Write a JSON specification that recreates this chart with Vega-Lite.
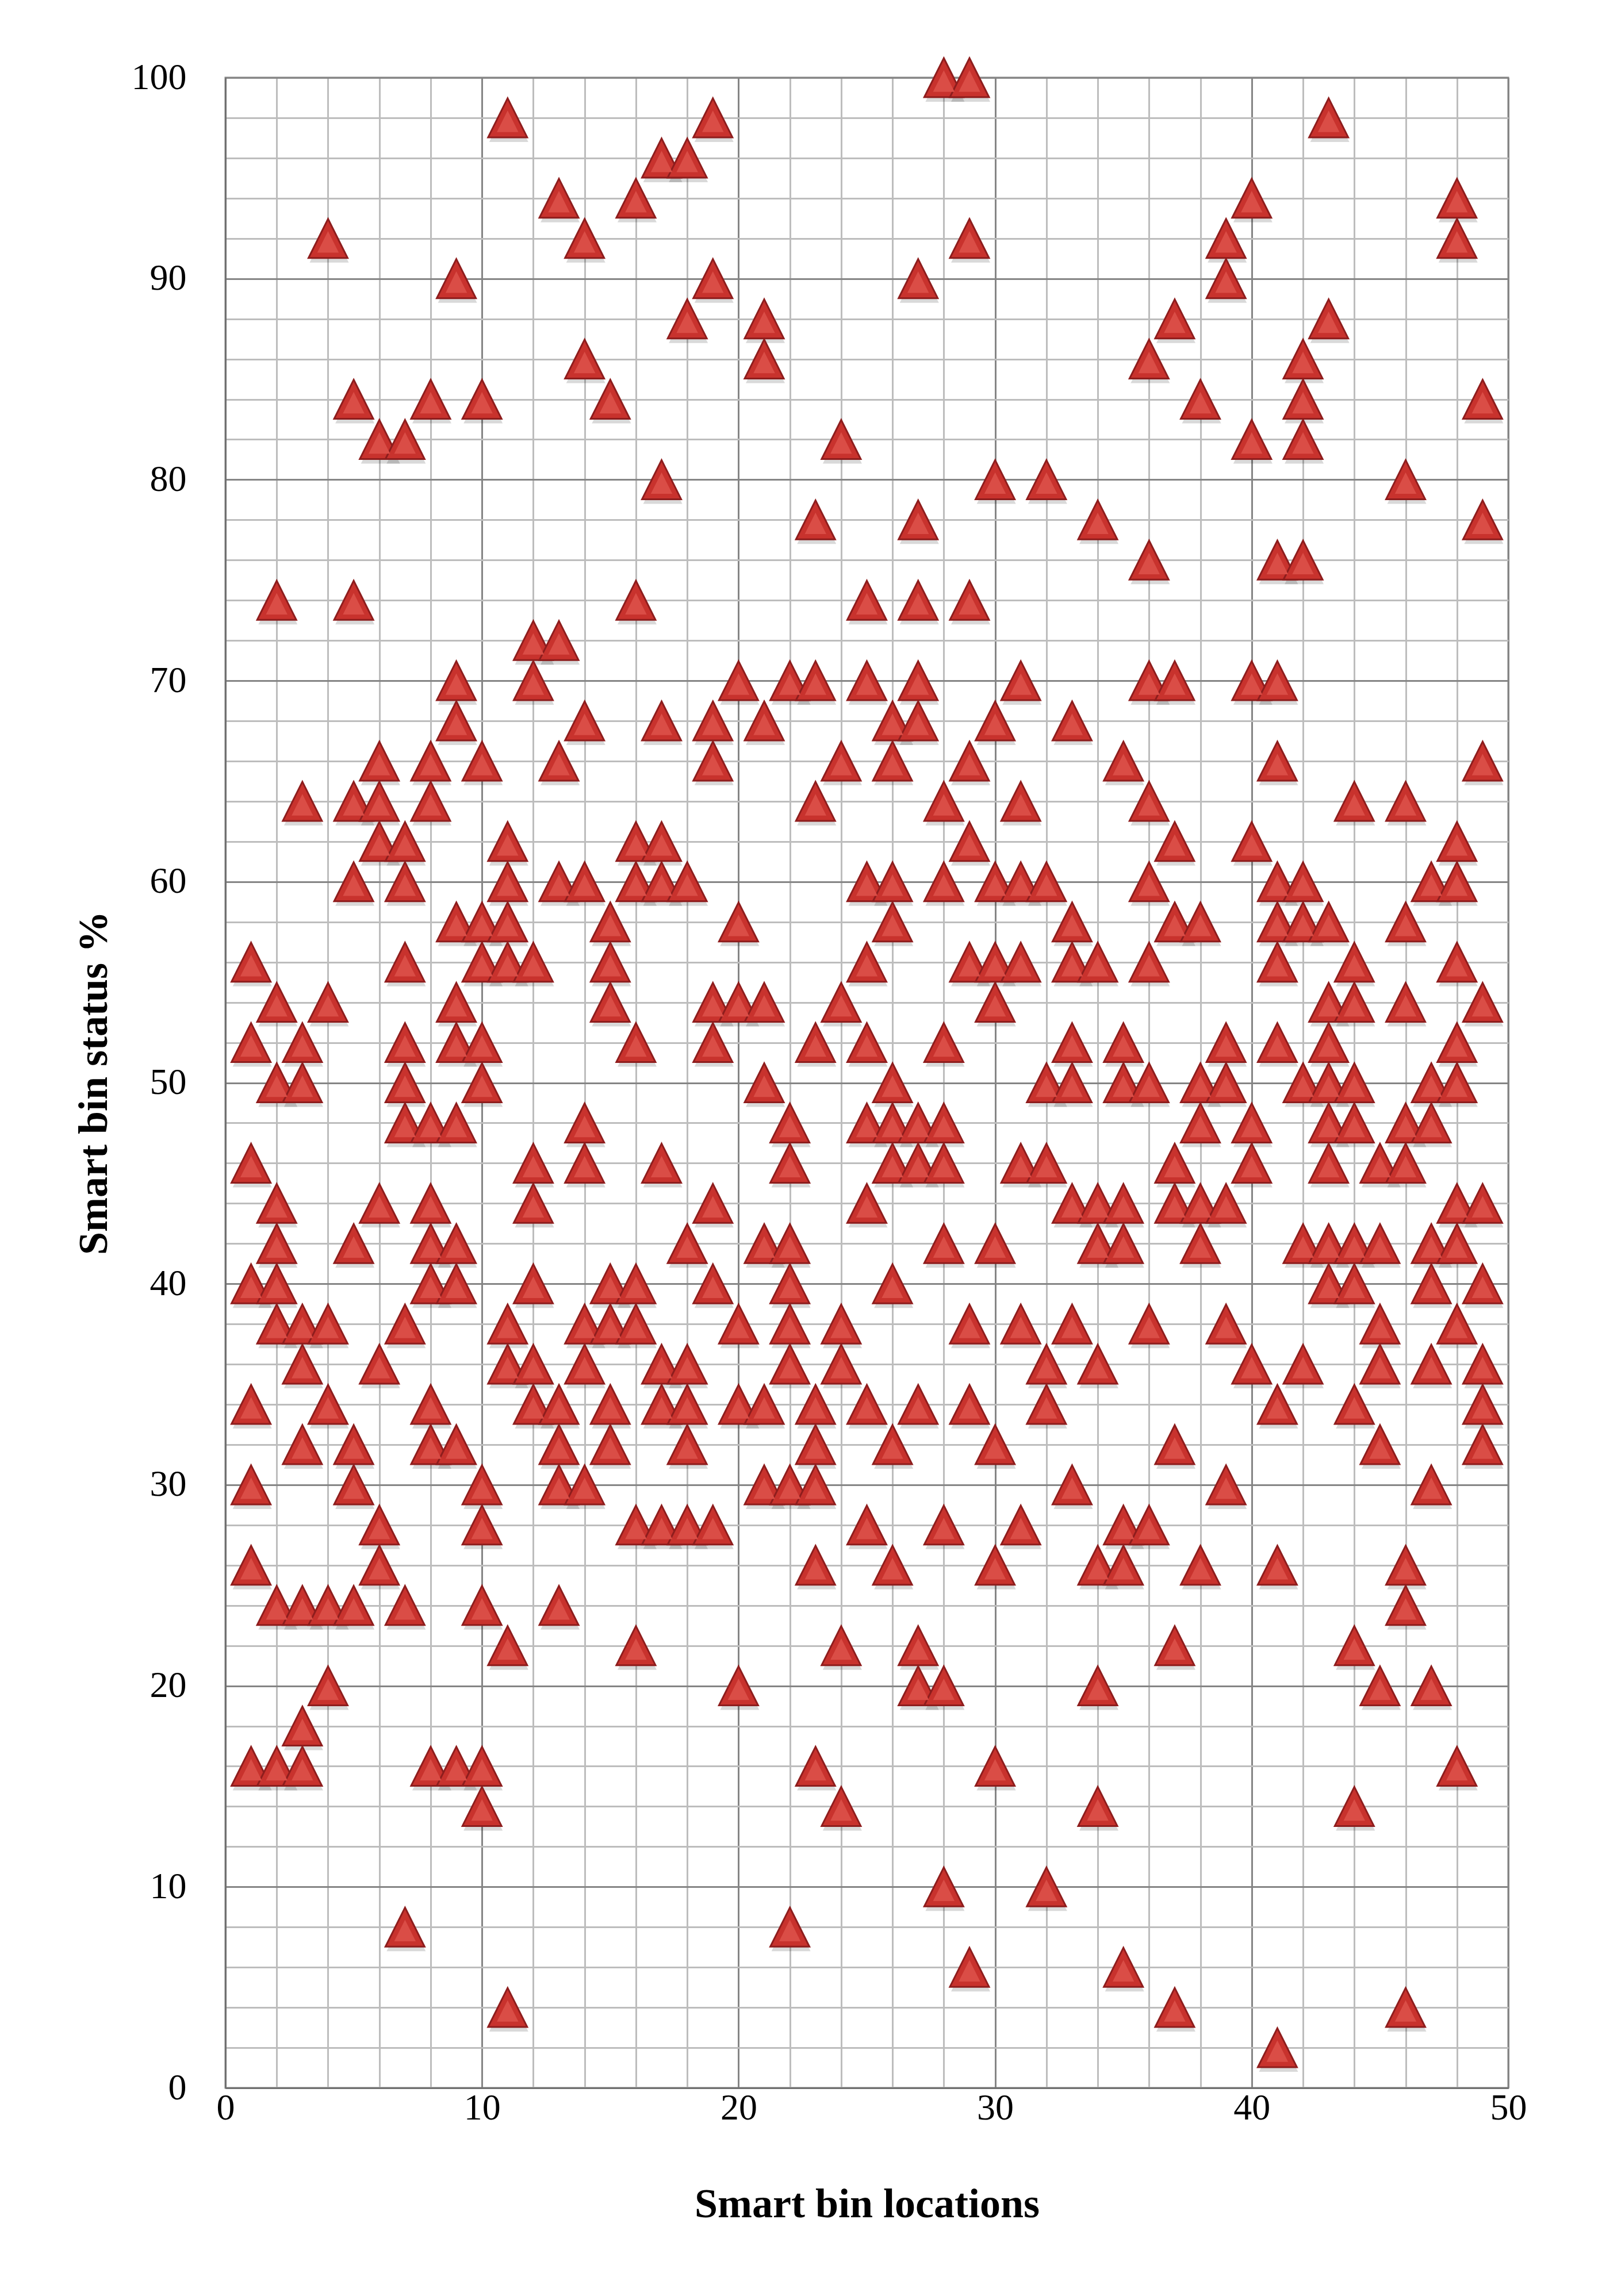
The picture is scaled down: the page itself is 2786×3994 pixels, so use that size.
{
  "$schema": "https://vega.github.io/schema/vega-lite/v6.json",
  "width": 2231,
  "height": 3497,
  "autosize": {"type": "none"},
  "padding": {"left": 392, "top": 135, "right": 163, "bottom": 362},
  "background": "white",
  "config": {"view": {"stroke": "#8c8c8c", "strokeWidth": 3}, "font": "Liberation Serif"},
  "data": {"values": [
{"location":1,"status":56},{"location":1,"status":52},{"location":1,"status":46},{"location":1,"status":40},{"location":1,"status":34},{"location":1,"status":30},{"location":1,"status":26},{"location":1,"status":16},
{"location":2,"status":74},{"location":2,"status":54},{"location":2,"status":50},{"location":2,"status":44},{"location":2,"status":42},{"location":2,"status":40},{"location":2,"status":38},{"location":2,"status":24},{"location":2,"status":16},
{"location":3,"status":64},{"location":3,"status":52},{"location":3,"status":50},{"location":3,"status":38},{"location":3,"status":36},{"location":3,"status":32},{"location":3,"status":24},{"location":3,"status":18},{"location":3,"status":16},
{"location":4,"status":92},{"location":4,"status":54},{"location":4,"status":38},{"location":4,"status":34},{"location":4,"status":24},{"location":4,"status":20},
{"location":5,"status":84},{"location":5,"status":74},{"location":5,"status":64},{"location":5,"status":60},{"location":5,"status":42},{"location":5,"status":32},{"location":5,"status":30},{"location":5,"status":24},
{"location":6,"status":82},{"location":6,"status":66},{"location":6,"status":64},{"location":6,"status":62},{"location":6,"status":44},{"location":6,"status":36},{"location":6,"status":28},{"location":6,"status":26},
{"location":7,"status":82},{"location":7,"status":62},{"location":7,"status":60},{"location":7,"status":56},{"location":7,"status":52},{"location":7,"status":50},{"location":7,"status":48},{"location":7,"status":38},{"location":7,"status":24},{"location":7,"status":8},
{"location":8,"status":84},{"location":8,"status":66},{"location":8,"status":64},{"location":8,"status":48},{"location":8,"status":44},{"location":8,"status":42},{"location":8,"status":40},{"location":8,"status":34},{"location":8,"status":32},{"location":8,"status":16},
{"location":9,"status":90},{"location":9,"status":70},{"location":9,"status":68},{"location":9,"status":58},{"location":9,"status":54},{"location":9,"status":52},{"location":9,"status":48},{"location":9,"status":42},{"location":9,"status":40},{"location":9,"status":32},{"location":9,"status":16},
{"location":10,"status":84},{"location":10,"status":66},{"location":10,"status":58},{"location":10,"status":56},{"location":10,"status":52},{"location":10,"status":50},{"location":10,"status":30},{"location":10,"status":28},{"location":10,"status":24},{"location":10,"status":16},{"location":10,"status":14},
{"location":11,"status":98},{"location":11,"status":62},{"location":11,"status":60},{"location":11,"status":58},{"location":11,"status":56},{"location":11,"status":38},{"location":11,"status":36},{"location":11,"status":22},{"location":11,"status":4},
{"location":12,"status":72},{"location":12,"status":70},{"location":12,"status":56},{"location":12,"status":46},{"location":12,"status":44},{"location":12,"status":40},{"location":12,"status":36},{"location":12,"status":34},
{"location":13,"status":94},{"location":13,"status":72},{"location":13,"status":66},{"location":13,"status":60},{"location":13,"status":34},{"location":13,"status":32},{"location":13,"status":30},{"location":13,"status":24},
{"location":14,"status":92},{"location":14,"status":86},{"location":14,"status":68},{"location":14,"status":60},{"location":14,"status":48},{"location":14,"status":46},{"location":14,"status":38},{"location":14,"status":36},{"location":14,"status":30},
{"location":15,"status":84},{"location":15,"status":58},{"location":15,"status":56},{"location":15,"status":54},{"location":15,"status":40},{"location":15,"status":38},{"location":15,"status":34},{"location":15,"status":32},
{"location":16,"status":94},{"location":16,"status":74},{"location":16,"status":62},{"location":16,"status":60},{"location":16,"status":52},{"location":16,"status":40},{"location":16,"status":38},{"location":16,"status":28},{"location":16,"status":22},
{"location":17,"status":96},{"location":17,"status":80},{"location":17,"status":68},{"location":17,"status":62},{"location":17,"status":60},{"location":17,"status":46},{"location":17,"status":36},{"location":17,"status":34},{"location":17,"status":28},
{"location":18,"status":96},{"location":18,"status":88},{"location":18,"status":60},{"location":18,"status":42},{"location":18,"status":36},{"location":18,"status":34},{"location":18,"status":32},{"location":18,"status":28},
{"location":19,"status":98},{"location":19,"status":90},{"location":19,"status":68},{"location":19,"status":66},{"location":19,"status":54},{"location":19,"status":52},{"location":19,"status":44},{"location":19,"status":40},{"location":19,"status":28},
{"location":20,"status":70},{"location":20,"status":58},{"location":20,"status":54},{"location":20,"status":38},{"location":20,"status":34},{"location":20,"status":20},
{"location":21,"status":88},{"location":21,"status":86},{"location":21,"status":68},{"location":21,"status":54},{"location":21,"status":50},{"location":21,"status":42},{"location":21,"status":34},{"location":21,"status":30},
{"location":22,"status":70},{"location":22,"status":48},{"location":22,"status":46},{"location":22,"status":42},{"location":22,"status":40},{"location":22,"status":38},{"location":22,"status":36},{"location":22,"status":30},{"location":22,"status":8},
{"location":23,"status":78},{"location":23,"status":70},{"location":23,"status":64},{"location":23,"status":52},{"location":23,"status":34},{"location":23,"status":32},{"location":23,"status":30},{"location":23,"status":26},{"location":23,"status":16},
{"location":24,"status":82},{"location":24,"status":66},{"location":24,"status":54},{"location":24,"status":38},{"location":24,"status":36},{"location":24,"status":22},{"location":24,"status":14},
{"location":25,"status":74},{"location":25,"status":70},{"location":25,"status":60},{"location":25,"status":56},{"location":25,"status":52},{"location":25,"status":48},{"location":25,"status":44},{"location":25,"status":34},{"location":25,"status":28},
{"location":26,"status":68},{"location":26,"status":66},{"location":26,"status":60},{"location":26,"status":58},{"location":26,"status":50},{"location":26,"status":48},{"location":26,"status":46},{"location":26,"status":40},{"location":26,"status":32},{"location":26,"status":26},
{"location":27,"status":90},{"location":27,"status":78},{"location":27,"status":74},{"location":27,"status":70},{"location":27,"status":68},{"location":27,"status":48},{"location":27,"status":46},{"location":27,"status":34},{"location":27,"status":22},{"location":27,"status":20},
{"location":28,"status":100},{"location":28,"status":64},{"location":28,"status":60},{"location":28,"status":52},{"location":28,"status":48},{"location":28,"status":46},{"location":28,"status":42},{"location":28,"status":28},{"location":28,"status":20},{"location":28,"status":10},
{"location":29,"status":100},{"location":29,"status":92},{"location":29,"status":74},{"location":29,"status":66},{"location":29,"status":62},{"location":29,"status":56},{"location":29,"status":38},{"location":29,"status":34},{"location":29,"status":6},
{"location":30,"status":80},{"location":30,"status":68},{"location":30,"status":60},{"location":30,"status":56},{"location":30,"status":54},{"location":30,"status":42},{"location":30,"status":32},{"location":30,"status":26},{"location":30,"status":16},
{"location":31,"status":70},{"location":31,"status":64},{"location":31,"status":60},{"location":31,"status":56},{"location":31,"status":46},{"location":31,"status":38},{"location":31,"status":28},
{"location":32,"status":80},{"location":32,"status":60},{"location":32,"status":50},{"location":32,"status":46},{"location":32,"status":36},{"location":32,"status":34},{"location":32,"status":10},
{"location":33,"status":68},{"location":33,"status":58},{"location":33,"status":56},{"location":33,"status":52},{"location":33,"status":50},{"location":33,"status":44},{"location":33,"status":38},{"location":33,"status":30},
{"location":34,"status":78},{"location":34,"status":56},{"location":34,"status":44},{"location":34,"status":42},{"location":34,"status":36},{"location":34,"status":26},{"location":34,"status":20},{"location":34,"status":14},
{"location":35,"status":66},{"location":35,"status":52},{"location":35,"status":50},{"location":35,"status":44},{"location":35,"status":42},{"location":35,"status":28},{"location":35,"status":26},{"location":35,"status":6},
{"location":36,"status":86},{"location":36,"status":76},{"location":36,"status":70},{"location":36,"status":64},{"location":36,"status":60},{"location":36,"status":56},{"location":36,"status":50},{"location":36,"status":38},{"location":36,"status":28},
{"location":37,"status":88},{"location":37,"status":70},{"location":37,"status":62},{"location":37,"status":58},{"location":37,"status":46},{"location":37,"status":44},{"location":37,"status":32},{"location":37,"status":22},{"location":37,"status":4},
{"location":38,"status":84},{"location":38,"status":58},{"location":38,"status":50},{"location":38,"status":48},{"location":38,"status":44},{"location":38,"status":42},{"location":38,"status":26},
{"location":39,"status":92},{"location":39,"status":90},{"location":39,"status":52},{"location":39,"status":50},{"location":39,"status":44},{"location":39,"status":38},{"location":39,"status":30},
{"location":40,"status":94},{"location":40,"status":82},{"location":40,"status":70},{"location":40,"status":62},{"location":40,"status":48},{"location":40,"status":46},{"location":40,"status":36},
{"location":41,"status":76},{"location":41,"status":70},{"location":41,"status":66},{"location":41,"status":60},{"location":41,"status":58},{"location":41,"status":56},{"location":41,"status":52},{"location":41,"status":34},{"location":41,"status":26},{"location":41,"status":2},
{"location":42,"status":86},{"location":42,"status":84},{"location":42,"status":82},{"location":42,"status":76},{"location":42,"status":60},{"location":42,"status":58},{"location":42,"status":50},{"location":42,"status":42},{"location":42,"status":36},
{"location":43,"status":98},{"location":43,"status":88},{"location":43,"status":58},{"location":43,"status":54},{"location":43,"status":52},{"location":43,"status":50},{"location":43,"status":48},{"location":43,"status":46},{"location":43,"status":42},{"location":43,"status":40},
{"location":44,"status":64},{"location":44,"status":56},{"location":44,"status":54},{"location":44,"status":50},{"location":44,"status":48},{"location":44,"status":42},{"location":44,"status":40},{"location":44,"status":34},{"location":44,"status":22},{"location":44,"status":14},
{"location":45,"status":46},{"location":45,"status":42},{"location":45,"status":38},{"location":45,"status":36},{"location":45,"status":32},{"location":45,"status":20},
{"location":46,"status":80},{"location":46,"status":64},{"location":46,"status":58},{"location":46,"status":54},{"location":46,"status":48},{"location":46,"status":46},{"location":46,"status":26},{"location":46,"status":24},{"location":46,"status":4},
{"location":47,"status":60},{"location":47,"status":50},{"location":47,"status":48},{"location":47,"status":42},{"location":47,"status":40},{"location":47,"status":36},{"location":47,"status":30},{"location":47,"status":20},
{"location":48,"status":94},{"location":48,"status":92},{"location":48,"status":62},{"location":48,"status":60},{"location":48,"status":56},{"location":48,"status":52},{"location":48,"status":50},{"location":48,"status":44},{"location":48,"status":42},{"location":48,"status":38},{"location":48,"status":16},
{"location":49,"status":84},{"location":49,"status":78},{"location":49,"status":66},{"location":49,"status":54},{"location":49,"status":44},{"location":49,"status":40},{"location":49,"status":36},{"location":49,"status":34},{"location":49,"status":32}
  ]},
  "encoding": {
    "x": {
      "field": "location", "type": "quantitative",
      "scale": {"domain": [0, 50], "nice": false, "zero": false},
      "axis": {
        "values": [0,2,4,6,8,10,12,14,16,18,20,22,24,26,28,30,32,34,36,38,40,42,44,46,48,50],
        "labelExpr": "datum.value % 10 === 0 ? datum.label : ''",
        "labelOverlap": false, "labelFlush": false,
        "title": "Smart bin locations",
        "titleFont": "Liberation Serif", "titleFontWeight": "bold", "titleFontSize": 72, "titleColor": "#000000",
        "titlePadding": 100,
        "labelFont": "Liberation Serif", "labelFontSize": 64, "labelColor": "#000000", "labelPadding": 3,
        "ticks": false,
        "domainColor": "#707070", "domainWidth": 3,
        "gridColor": {"condition": {"test": "datum.value % 10 === 0", "value": "#858585"}, "value": "#bdbdbd"},
        "gridWidth": 3, "gridOpacity": 1
      }
    },
    "y": {
      "field": "status", "type": "quantitative",
      "scale": {"domain": [0, 100], "nice": false},
      "axis": {
        "values": [0,2,4,6,8,10,12,14,16,18,20,22,24,26,28,30,32,34,36,38,40,42,44,46,48,50,52,54,56,58,60,62,64,66,68,70,72,74,76,78,80,82,84,86,88,90,92,94,96,98,100],
        "labelExpr": "datum.value % 10 === 0 ? datum.label : ''",
        "labelOverlap": false, "labelFlush": false,
        "title": "Smart bin status %",
        "titleFont": "Liberation Serif", "titleFontWeight": "bold", "titleFontSize": 72, "titleColor": "#000000",
        "titlePadding": 28,
        "labelFont": "Liberation Serif", "labelFontSize": 64, "labelColor": "#000000", "labelPadding": 68,
        "ticks": false,
        "domainColor": "#707070", "domainWidth": 3,
        "gridColor": {"condition": {"test": "datum.value % 10 === 0", "value": "#858585"}, "value": "#bdbdbd"},
        "gridWidth": 3, "gridOpacity": 1
      }
    }
  },
  "layer": [
    {"mark": {"type": "point", "shape": "M0,-1L1,1L-1,1Z", "filled": true, "size": 4624, "fill": "#000000", "opacity": 0.15, "strokeWidth": 0, "yOffset": 8, "xOffset": 2}},
    {"mark": {"type": "point", "shape": "M0,-1L1,1L-1,1Z", "filled": true, "size": 4624, "fill": "#c8322d", "stroke": "#8e1d1d", "strokeWidth": 3, "opacity": 1}},
    {"mark": {"type": "point", "shape": "M0,-1L1,1L-1,1Z", "filled": true, "size": 1400, "fill": "#da4d46", "strokeWidth": 0, "opacity": 1, "yOffset": 6}}
  ]
}
